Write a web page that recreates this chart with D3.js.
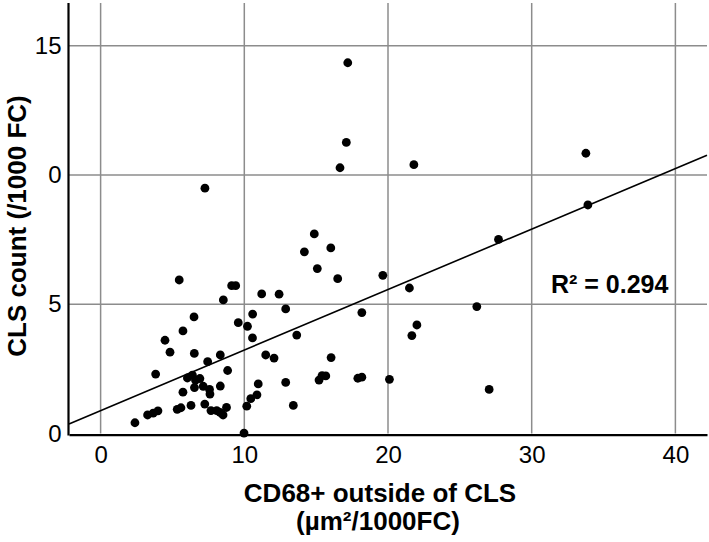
<!DOCTYPE html>
<html>
<head>
<meta charset="utf-8">
<script src="https://cdn.jsdelivr.net/npm/d3@7"></script>
<style>
  html, body { margin: 0; padding: 0; background: #fff; }
  svg { display: block; font-family: "Liberation Sans", Arial, Helvetica, sans-serif; }
</style>
</head>
<body>
<svg id="chart" width="709" height="542"></svg>
<script>
// ---- data ----
const cd68 = [17.20, 17.10, 16.66, 21.80, 33.77, 33.91, 7.26, 27.69, 14.87, 14.18,
  16.02, 15.08, 16.50, 19.64, 21.49, 26.18, 18.18, 13.65, 22.01, 21.66,
  16.04, 15.20, 15.41, 15.67, 17.90, 18.18, 20.10, 13.41, 27.04, 5.47,
  9.12, 9.40, 8.54, 11.21, 12.42, 12.88, 6.50, 10.58, 9.58, 10.22,
  10.57, 5.73, 4.48, 4.83, 6.52, 8.33, 11.49, 12.07, 7.45, 8.84,
  3.83, 6.04, 6.39, 6.60, 6.91, 6.53, 7.14, 7.58, 7.61, 8.33,
  5.73, 10.97, 12.88, 10.88, 10.45, 10.17, 5.33, 5.59, 6.29, 7.25,
  7.68, 8.08, 8.31, 8.76, 8.52, 3.99, 3.66, 3.27, 2.39, 9.98];
const clsCount = [14.34, 11.26, 10.28, 10.40, 10.84, 8.84, 9.49, 7.51, 7.72, 7.03,
  7.18, 6.38, 5.99, 6.12, 5.63, 4.91, 4.68, 3.81, 4.20, 3.79,
  2.94, 2.07, 2.24, 2.23, 2.14, 2.18, 2.10, 1.09, 1.71, 5.94,
  5.72, 5.72, 5.17, 5.40, 5.39, 4.82, 4.51, 4.62, 4.29, 4.15,
  3.70, 3.97, 3.61, 3.15, 3.10, 3.04, 3.04, 2.92, 2.78, 2.44,
  2.30, 2.15, 2.26, 2.07, 2.13, 1.78, 1.83, 1.71, 1.53, 1.84,
  1.60, 1.92, 1.98, 1.50, 1.35, 1.06, 0.94, 1.00, 1.09, 1.14,
  0.89, 0.89, 0.82, 1.01, 0.72, 0.88, 0.79, 0.72, 0.42, 0.02];
const xTicks = [0, 10, 20, 30, 40];
const xTickLabels = ["0", "10", "20", "30", "40"];
const yTicks = [0, 5, 10, 15];
const yTickLabels = ["0", "5", "0", "15"];
const fitLine = { intercept: 0.89, slope: 0.234 };
const r2Label = "R\u00B2 = 0.294";
const xTitle = ["CD68+ outside of CLS", "(\u00B5m\u00B2/1000FC)"];
const yTitle = "CLS count (/1000 FC)";

// ---- layout ----
const svg = d3.select("#chart");
const pLeft = 69, pRight = 707, pTop = 3, pBottom = 433.6;
const xDomain = [-2.2, 42.2], yDomain = [0, 16.65];
const x = d3.scaleLinear().domain(xDomain).range([pLeft, pRight]);
const y = d3.scaleLinear().domain(yDomain).range([pBottom, pTop]);

// gridlines
const grid = svg.append("g").attr("stroke", "#8c8c8c").attr("stroke-width", 1.5);
grid.selectAll("line.v").data(xTicks).join("line").attr("class", "v")
  .attr("x1", d => x(d)).attr("x2", d => x(d)).attr("y1", pTop).attr("y2", pBottom);
grid.selectAll("line.h").data(yTicks.filter(d => d > 0)).join("line").attr("class", "h")
  .attr("x1", pLeft).attr("x2", pRight).attr("y1", d => y(d)).attr("y2", d => y(d));

// regression line
svg.append("line")
  .attr("x1", x(xDomain[0])).attr("y1", y(fitLine.intercept + fitLine.slope * xDomain[0]))
  .attr("x2", x(xDomain[1])).attr("y2", y(fitLine.intercept + fitLine.slope * xDomain[1]))
  .attr("stroke", "#000").attr("stroke-width", 1.6);

// points
svg.append("g").selectAll("circle").data(cd68.map((v, i) => [v, clsCount[i]])).join("circle")
  .attr("cx", d => x(d[0])).attr("cy", d => y(d[1])).attr("r", 4.4).attr("fill", "#000");

// axes
const xAxis = d3.axisBottom(x).tickValues(xTicks)
  .tickFormat((d, i) => xTickLabels[i]).tickSizeInner(0).tickSizeOuter(0).tickPadding(11);
const gx = svg.append("g").attr("transform", `translate(0,${pBottom + 1})`).call(xAxis);
gx.select(".domain").attr("stroke", "#000").attr("stroke-width", 2.2);
gx.selectAll("text").attr("font-size", 24).attr("fill", "#000")
  .attr("font-family", "'Liberation Sans', Arial, sans-serif");

const yAxis = d3.axisLeft(y).tickValues(yTicks)
  .tickFormat((d, i) => yTickLabels[i]).tickSizeInner(0).tickSizeOuter(0).tickPadding(7);
const gy = svg.append("g").attr("transform", `translate(${pLeft - 0.5},0)`).call(yAxis);
gy.select(".domain").attr("stroke", "#000").attr("stroke-width", 2.2)
  .attr("d", `M0,${pTop}V${pBottom + 2}`);
gy.selectAll("text").attr("font-size", 24).attr("fill", "#000")
  .attr("font-family", "'Liberation Sans', Arial, sans-serif");

// R² label
svg.append("text").attr("x", 551).attr("y", 292.5)
  .attr("font-size", 25).attr("font-weight", "bold").attr("fill", "#000")
  .text(r2Label);

// axis titles
svg.append("text").attr("x", 380).attr("y", 501.5).attr("text-anchor", "middle")
  .attr("font-size", 26).attr("font-weight", "bold").text(xTitle[0]);
svg.append("text").attr("x", 378).attr("y", 529.5).attr("text-anchor", "middle")
  .attr("font-size", 26).attr("font-weight", "bold").text(xTitle[1]);
svg.append("text").attr("transform", "translate(25.5,226) rotate(-90)")
  .attr("text-anchor", "middle").attr("font-size", 26).attr("font-weight", "bold")
  .text(yTitle);
</script>
</body>
</html>
